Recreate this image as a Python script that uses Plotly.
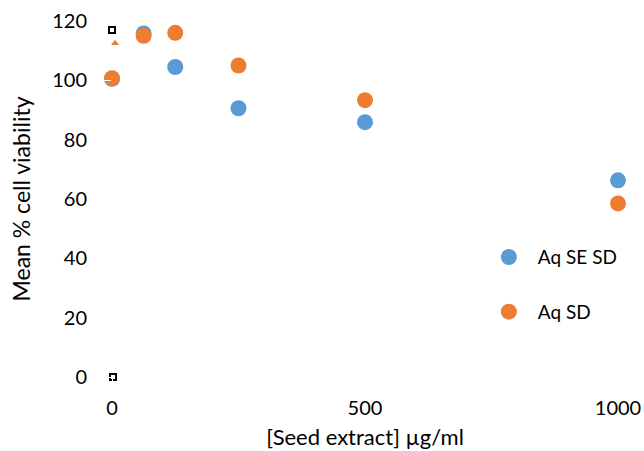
import plotly.graph_objects as go

conc = [0, 62.5, 125, 250, 500, 1000]
aq_se_sd = [100.5, 115.8, 104.5, 90.6, 85.9, 66.3]
aq_sd = [100.7, 115.0, 116.0, 105.0, 93.3, 58.5]

x_ticks = [0, 500, 1000]
y_ticks = [0, 20, 40, 60, 80, 100, 120]

BLUE = "#5B9BD5"
ORANGE = "#ED7D31"
FONT = "Lato, Open Sans, sans-serif"

fig = go.Figure()
fig.add_trace(go.Scatter(x=conc, y=aq_se_sd, mode="markers", name="Aq SE SD",
                         legendgroup="a",
                         marker=dict(color=BLUE, size=16), cliponaxis=False))
fig.add_trace(go.Scatter(x=conc, y=aq_sd, mode="markers", name="Aq SD",
                         legendgroup="b",
                         marker=dict(color=ORANGE, size=16), cliponaxis=False))
# small artefact marks seen in the original
fig.add_trace(go.Scatter(x=[6], y=[112.5], mode="markers", showlegend=False,
                         marker=dict(color=ORANGE, size=7, symbol="triangle-up"),
                         cliponaxis=False, hoverinfo="skip"))
fig.add_trace(go.Scatter(x=[0, 2], y=[117, 0], mode="markers", showlegend=False,
                         marker=dict(color="black", size=6, symbol="square-open",
                                     line=dict(width=2, color="black")),
                         cliponaxis=False, hoverinfo="skip"))

fig.update_layout(
    width=644, height=451,
    margin=dict(l=112, r=26, t=21, b=74),
    paper_bgcolor="white", plot_bgcolor="white",
    font=dict(family=FONT, size=20, color="black"),
    showlegend=True,
    legend=dict(x=0.727, y=0.39, xanchor="left", yanchor="top",
                font=dict(size=19, family=FONT), traceorder="grouped",
                tracegroupgap=27, itemsizing="trace", itemwidth=48),
    xaxis=dict(range=[0, 1000], tickvals=x_ticks, showgrid=False, zeroline=False,
               showline=False, ticks="outside", ticklen=13, tickcolor="white",
               automargin=False, tickfont=dict(size=20),
               title=dict(text="[Seed extract] µg/ml", font=dict(size=22), standoff=11)),
    yaxis=dict(range=[0, 120], tickvals=y_ticks, showgrid=False, zeroline=False,
               showline=False, ticks="outside", ticklen=20, tickcolor="white",
               automargin=False, tickfont=dict(size=20),
               title=dict(text="Mean % cell viability", font=dict(size=23), standoff=15)),
)

fig.write_html("out.html", config={"displayModeBar": False},
               post_script="document.body.style.margin='0';document.body.style.overflow='hidden';")
